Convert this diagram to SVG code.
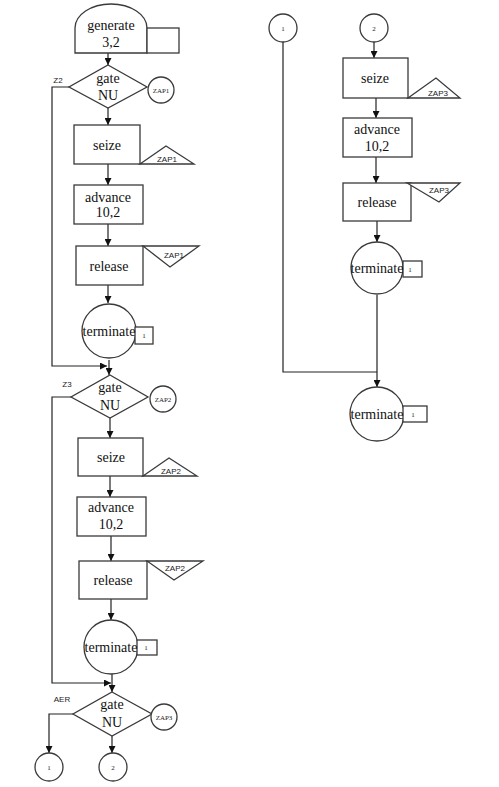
<svg xmlns="http://www.w3.org/2000/svg" width="499" height="787" viewBox="0 0 499 787">
<style>
.s{fill:#fff;stroke:#3a3a3a;stroke-width:1.3}
.t{font-family:"Liberation Serif",serif;font-size:14px;fill:#111;text-anchor:middle}
.z{font-family:"Liberation Sans",sans-serif;font-size:8px;fill:#222;text-anchor:middle}
.c{font-family:"Liberation Serif",serif;font-size:7px;fill:#222;text-anchor:middle}
.l{fill:none;stroke:#222;stroke-width:1.2}
.a{fill:none;stroke:#222;stroke-width:1.2;marker-end:url(#ah)}
</style>
<defs>
<marker id="ah" viewBox="0 0 10 10" refX="10" refY="5" markerWidth="7" markerHeight="7" markerUnits="userSpaceOnUse" orient="auto"><path d="M0,0 L10,5 L0,10 z" fill="#111"/></marker>
</defs>
<rect width="499" height="787" fill="#fff"/>
<g id="connectors">
<path class="a" d="M108,53 V65"/>
<path class="a" d="M108,108 V125"/>
<path class="a" d="M108,164 V185"/>
<path class="a" d="M108,224 V246"/>
<path class="a" d="M108,285 V303"/>
<path class="a" d="M109,360 V375"/>
<path class="a" d="M69,87 H52 V366 H107"/>
<path class="a" d="M110,418 V438"/>
<path class="a" d="M110,476 V497"/>
<path class="a" d="M111,536 V561"/>
<path class="a" d="M111,599 V620"/>
<path class="a" d="M112,674 V692"/>
<path class="a" d="M71,397 H52 V683 H111"/>
<path class="a" d="M73,714 H49 V753"/>
<path class="a" d="M112,736 V753"/>
<path class="a" d="M374,42 V58"/>
<path class="a" d="M376,98 V118"/>
<path class="a" d="M376,157 V183"/>
<path class="a" d="M377,221 V242"/>
<path class="a" d="M377,295 V387"/>
<path class="l" d="M283,42 V372 H377"/>
</g>
<g id="generate">
<path class="s" d="M75,53 V28 A36,24 0 0 1 147,28 V53 Z"/>
<rect class="s" x="147" y="28" width="32" height="25"/>
<text class="t" x="111" y="30">generate</text>
<text class="t" x="111" y="47">3,2</text>
</g>
<g id="gate1">
<polygon class="s" points="108,65 147,87 108,108 69,87"/>
<text class="t" x="108" y="83">gate</text>
<text class="t" x="108" y="100">NU</text>
<text class="z" x="58" y="83">Z2</text>
</g>
<g id="zap1c"><circle class="s" cx="161" cy="90" r="13"/><text class="c" x="161" y="92.5">ZAP1</text></g>
<g id="seize1">
<rect class="s" x="74" y="125" width="66" height="39"/>
<text class="t" x="107" y="150">seize</text>
<polygon class="s" points="140,164 166,146 194,164"/>
<text class="z" x="167" y="162">ZAP1</text>
</g>
<g id="advance1">
<rect class="s" x="74" y="185" width="69" height="39"/>
<text class="t" x="108" y="202">advance</text>
<text class="t" x="108" y="217">10,2</text>
</g>
<g id="release1">
<rect class="s" x="76" y="246" width="67" height="39"/>
<text class="t" x="109" y="271">release</text>
<polygon class="s" points="143,246 199,246 170,267"/>
<text class="z" x="174" y="258">ZAP1</text>
</g>
<g id="terminate1">
<circle class="s" cx="109" cy="331" r="27"/>
<rect class="s" x="135" y="327" width="18" height="17"/>
<text class="t" x="109" y="336">terminate</text>
<text class="c" x="144" y="338">1</text>
</g>
<g id="gate2">
<polygon class="s" points="110,375 148,397 110,418 71,397"/>
<text class="t" x="110" y="392">gate</text>
<text class="t" x="110" y="410">NU</text>
<text class="z" x="67" y="387">Z3</text>
</g>
<g id="zap2c"><circle class="s" cx="163" cy="399" r="13"/><text class="c" x="163" y="401.5">ZAP2</text></g>
<g id="seize2">
<rect class="s" x="78" y="438" width="65" height="38"/>
<text class="t" x="111" y="462">seize</text>
<polygon class="s" points="143,476 169,458 197,476"/>
<text class="z" x="171" y="474">ZAP2</text>
</g>
<g id="advance2">
<rect class="s" x="77" y="497" width="69" height="39"/>
<text class="t" x="111" y="512">advance</text>
<text class="t" x="111" y="529">10,2</text>
</g>
<g id="release2">
<rect class="s" x="79" y="561" width="68" height="38"/>
<text class="t" x="113" y="585">release</text>
<polygon class="s" points="147,561 203,561 174,580"/>
<text class="z" x="175" y="571">ZAP2</text>
</g>
<g id="terminate2">
<circle class="s" cx="111" cy="647" r="27"/>
<rect class="s" x="137" y="640" width="20" height="15"/>
<text class="t" x="111" y="652">terminate</text>
<text class="c" x="146" y="650">1</text>
</g>
<g id="gate3">
<polygon class="s" points="112,692 152,714 112,736 73,714"/>
<text class="t" x="112" y="709">gate</text>
<text class="t" x="112" y="727">NU</text>
<text class="z" x="62" y="702">AER</text>
</g>
<g id="zap3c"><circle class="s" cx="164" cy="717" r="13"/><text class="c" x="164" y="719.5">ZAP3</text></g>
<g id="conn1a"><circle class="s" cx="49" cy="767" r="14"/><text class="c" x="49" y="770">1</text></g>
<g id="conn2a"><circle class="s" cx="113" cy="767" r="14"/><text class="c" x="113" y="770">2</text></g>
<g id="conn1b"><circle class="s" cx="283" cy="28" r="14"/><text class="c" x="283" y="31">1</text></g>
<g id="conn2b"><circle class="s" cx="374" cy="28" r="14"/><text class="c" x="374" y="31">2</text></g>
<g id="seize3">
<rect class="s" x="343" y="58" width="65" height="40"/>
<text class="t" x="375" y="83">seize</text>
<polygon class="s" points="408,98 436,78 460,98"/>
<text class="z" x="438" y="96">ZAP3</text>
</g>
<g id="advance3">
<rect class="s" x="343" y="118" width="69" height="39"/>
<text class="t" x="377" y="134">advance</text>
<text class="t" x="377" y="151">10,2</text>
</g>
<g id="release3">
<rect class="s" x="343" y="183" width="68" height="38"/>
<text class="t" x="377" y="207">release</text>
<polygon class="s" points="407,183 460,183 439,202"/>
<text class="z" x="439" y="193">ZAP3</text>
</g>
<g id="terminate3">
<circle class="s" cx="377" cy="268" r="26"/>
<rect class="s" x="403" y="261" width="19" height="16"/>
<text class="t" x="377" y="273">terminate</text>
<text class="c" x="410" y="272">1</text>
</g>
<g id="terminate4">
<circle class="s" cx="377" cy="414" r="27"/>
<rect class="s" x="403" y="406" width="24" height="16"/>
<text class="t" x="377" y="419">terminate</text>
<text class="c" x="413" y="417">1</text>
</g>
</svg>
